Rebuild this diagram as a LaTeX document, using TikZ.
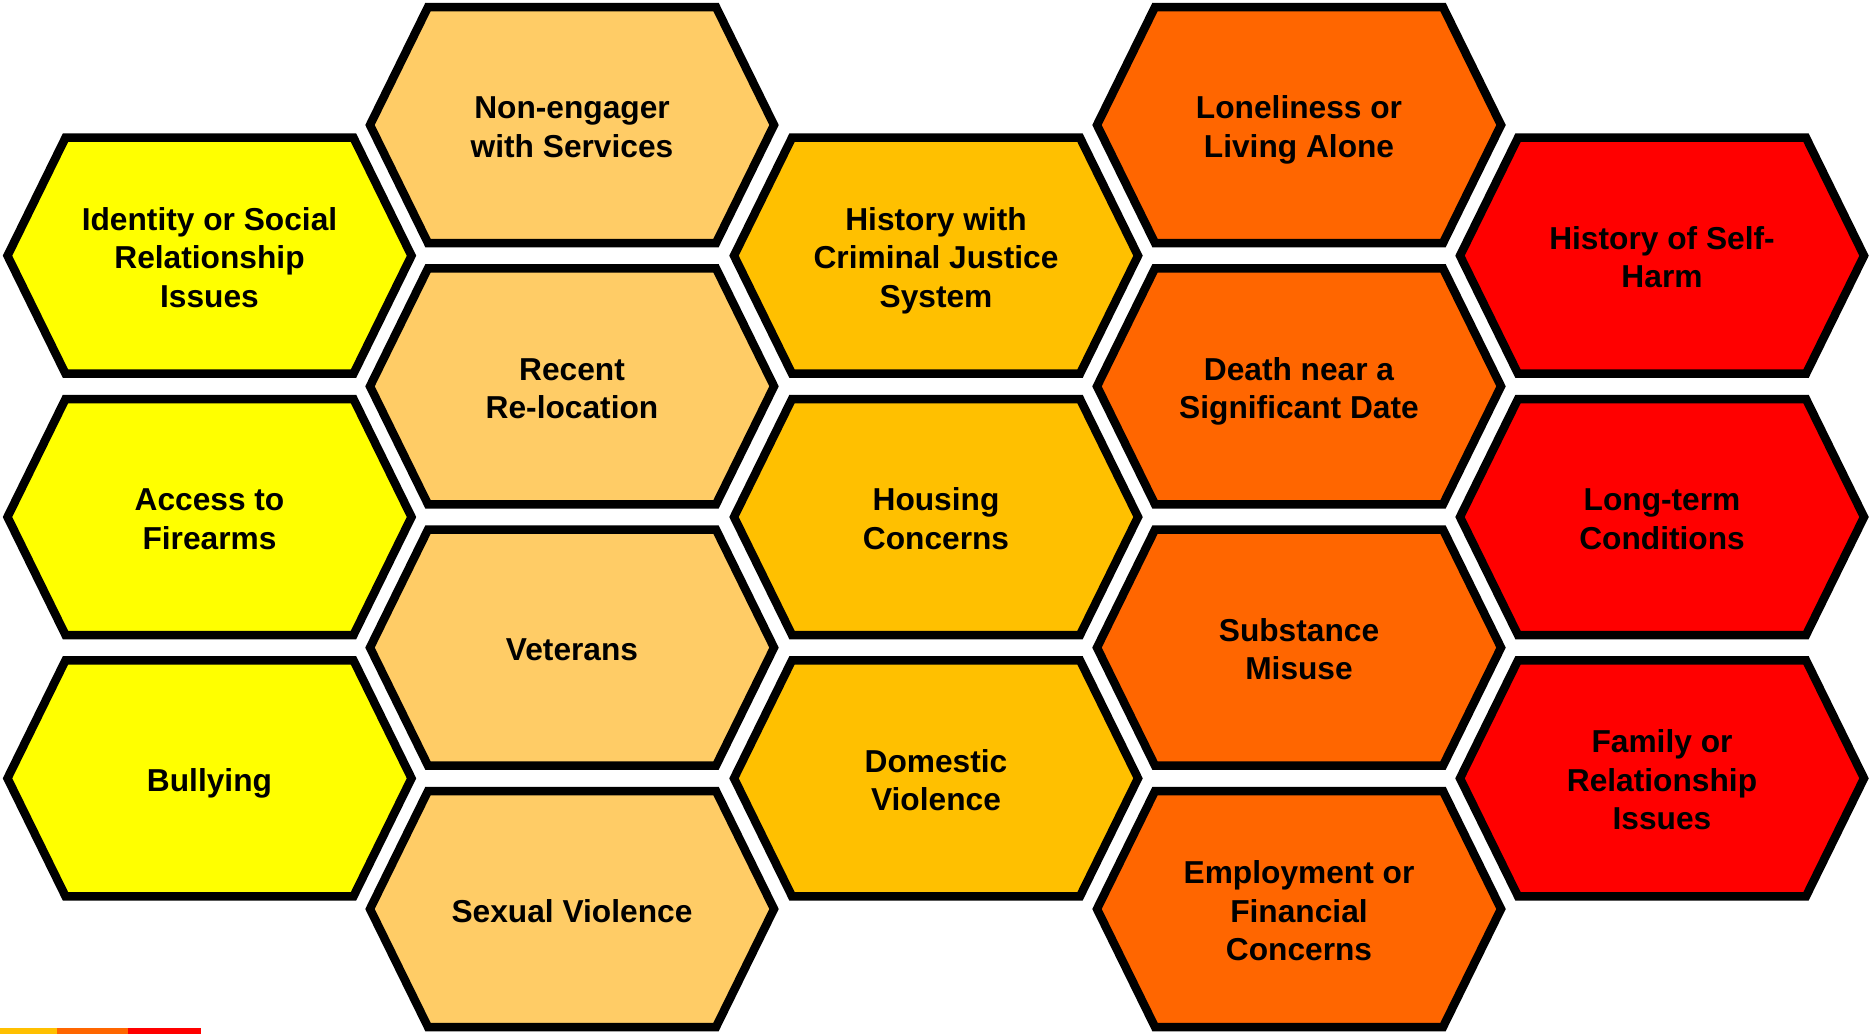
\documentclass[tikz,border=0pt]{standalone}
\usepackage{fontspec}
\setmainfont{Liberation Sans}
\definecolor{cyellow}{HTML}{FFFF00}
\definecolor{clight}{HTML}{FFCC66}
\definecolor{camber}{HTML}{FFC000}
\definecolor{corange}{HTML}{FF6600}
\definecolor{cred}{HTML}{FF0000}
\tikzset{
  hexline/.style={draw=black, line width=8.5pt, line join=miter},
  hexlabel/.style={align=center, font=\fontsize{31.7}{38.5}\selectfont\bfseries, text=black, inner sep=0pt, yshift=-2pt},
}
% hexagon cell: name, centre x, centre y, fill colour, label
% (struts give every label the full ascent and descent of the font)
\newcommand\hexcell[5]{%
  \filldraw[hexline, fill=#4]
    (#2-202,#3) -- (#2-144,#3-118) -- (#2+144,#3-118) --
    (#2+202,#3) -- (#2+144,#3+118) -- (#2-144,#3+118) -- cycle;
  \node[hexlabel] (#1) at (#2,#3) {\rule{0pt}{28.7pt}#5\rule[-6.7pt]{0pt}{6.7pt}};
}
\begin{document}
\begin{tikzpicture}[x=1pt, y=-1pt]
  \useasboundingbox (0,0) rectangle (1871,1034);
  \fill[white] (0,0) rectangle (1871,1034);

  % column 1
  \hexcell{identity}{209.5}{255.7}{cyellow}{Identity or Social\\Relationship\\Issues}
  \hexcell{firearms}{209.5}{517}{cyellow}{Access to\\Firearms}
  \hexcell{bullying}{209.5}{778.3}{cyellow}{Bullying}

  % column 2
  \hexcell{nonengager}{572}{125}{clight}{Non-engager\\with Services}
  \hexcell{relocation}{572}{386.3}{clight}{Recent\\Re-location}
  \hexcell{veterans}{572}{647.6}{clight}{Veterans}
  \hexcell{sexual}{572}{909}{clight}{Sexual Violence}

  % column 3
  \hexcell{criminal}{936}{255.7}{camber}{History with\\Criminal Justice\\System}
  \hexcell{housing}{936}{517}{camber}{Housing\\Concerns}
  \hexcell{domestic}{936}{778.3}{camber}{Domestic\\Violence}

  % column 4
  \hexcell{loneliness}{1299}{125}{corange}{Loneliness or\\Living Alone}
  \hexcell{deathdate}{1299}{386.3}{corange}{Death near a\\Significant Date}
  \hexcell{substance}{1299}{647.6}{corange}{Substance\\Misuse}
  \hexcell{employment}{1299}{909}{corange}{Employment or\\Financial\\Concerns}

  % column 5
  \hexcell{selfharm}{1662}{255.7}{cred}{History of Self-\\Harm}
  \hexcell{longterm}{1662}{517}{cred}{Long-term\\Conditions}
  \hexcell{family}{1662}{778.3}{cred}{Family or\\Relationship\\Issues}

  % colour strip along the bottom edge
  \fill[camber] (0,1028) rectangle (57,1034);
  \fill[corange] (57,1028) rectangle (128,1034);
  \fill[cred] (128,1028) rectangle (201,1034);
\end{tikzpicture}
\end{document}
